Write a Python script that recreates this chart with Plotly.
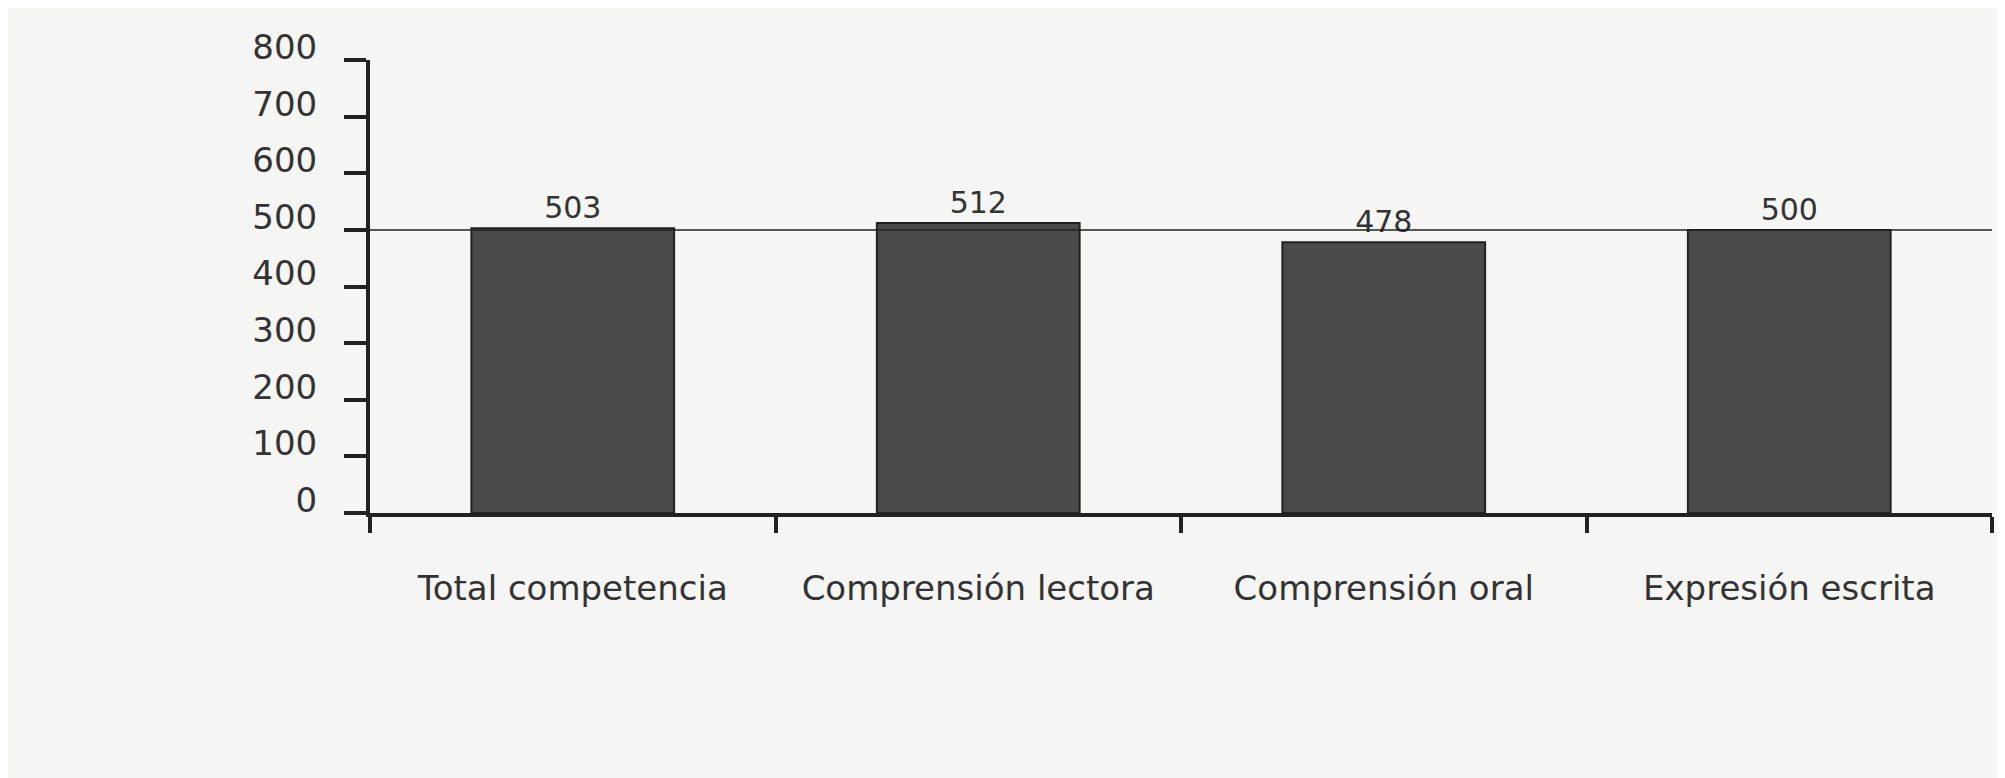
import plotly.graph_objects as go

categories = ["Total competencia", "Comprensión lectora", "Comprensión oral", "Expresión escrita"]
values = [503, 512, 478, 500]
reference_value = 500
y_ticks = [0, 100, 200, 300, 400, 500, 600, 700, 800]

fig = go.Figure()
fig.add_trace(go.Bar(
    x=categories, y=values,
    text=[str(v) for v in values], textposition="outside",
    textfont=dict(size=30, color="#333333", family="DejaVu Sans"),
    marker=dict(color="#4a4a4a", line=dict(color="#222222", width=2)),
    width=0.5, cliponaxis=False, showlegend=False,
))
fig.add_shape(type="line", xref="paper", yref="y", x0=0, x1=1,
              y0=reference_value, y1=reference_value,
              line=dict(color="#222222", width=1.5))

fig.update_layout(
    width=2005, height=778,
    margin=dict(l=362, r=21, t=52, b=273),
    paper_bgcolor="#f5f5f4", plot_bgcolor="#f5f5f4",
    font=dict(family="DejaVu Sans", color="#333333"),
    bargap=0.5,
)
fig.update_yaxes(
    range=[0, 800], tickvals=y_ticks, showgrid=False, zeroline=False,
    showline=True, linecolor="#222222", linewidth=4,
    ticks="outside", ticklen=22, tickwidth=4, tickcolor="#222222",
    tickfont=dict(size=34, color="#333333"),
    ticklabelshift=-13, ticklabelstandoff=20,
)
fig.update_xaxes(
    showgrid=False, zeroline=False,
    showline=True, linecolor="#222222", linewidth=4,
    ticks="outside", tickson="boundaries", ticklen=16, tickwidth=4, tickcolor="#222222",
    tickfont=dict(size=34, color="#333333"),
    ticklabelstandoff=42,
)

fig.write_html("out.html")
